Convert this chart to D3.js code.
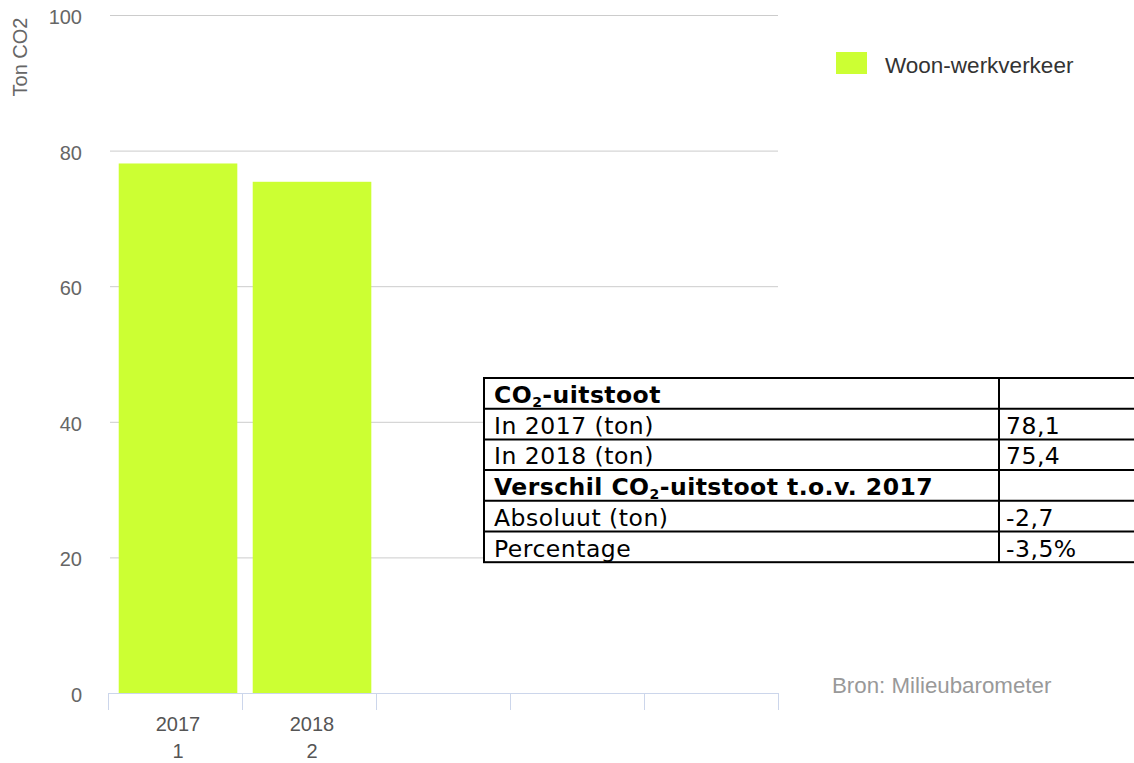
<!DOCTYPE html>
<html>
<head>
<meta charset="utf-8">
<script src="https://cdn.jsdelivr.net/npm/d3@7"></script>
<style>
  body { margin: 0; background: #fff; }
  svg { display: block; }
</style>
</head>
<body>
<svg id="chart" width="1134" height="763"></svg>
<script>
var categories = ["2017", "2018", "", "", ""];
var subLabels = ["1", "2", "", "", ""];
var values = [78.1, 75.4];
var seriesName = "Woon-werkverkeer";
var yTicks = [0, 20, 40, 60, 80, 100];

// label parts: [text, isSubscript]
var tableRows = [
  { label: [["CO", false], ["2", true], ["-uitstoot", false]], value: "", bold: true },
  { label: [["In 2017 (ton)", false]], value: "78,1", bold: false },
  { label: [["In 2018 (ton)", false]], value: "75,4", bold: false },
  { label: [["Verschil CO", false], ["2", true], ["-uitstoot t.o.v. 2017", false]], value: "", bold: true },
  { label: [["Absoluut (ton)", false]], value: "-2,7", bold: false },
  { label: [["Percentage", false]], value: "-3,5%", bold: false }
];

var barColor = "#ccff33";
var font = "'Liberation Sans', Arial, sans-serif";
var tableFont = "'DejaVu Sans', Verdana, sans-serif";

var svg = d3.select("svg#chart");

var plotLeft = 108, plotRight = 778, plotTop = 15, plotBottom = 693;

var x = d3.scaleBand()
    .domain(d3.range(categories.length))
    .range([plotLeft, plotRight]);

var y = d3.scaleLinear()
    .domain([0, 100])
    .range([plotBottom, plotTop]);

// gridlines
svg.append("g")
   .selectAll("line")
   .data(yTicks.filter(function(d) { return d > 0; }))
   .enter().append("line")
   .attr("x1", plotLeft + 2)
   .attr("x2", plotRight)
   .attr("y1", function(d) { return y(d) + 0.5; })
   .attr("y2", function(d) { return y(d) + 0.5; })
   .attr("stroke", "#cccccc")
   .attr("stroke-width", 1);

// y labels
svg.append("g")
   .selectAll("text")
   .data(yTicks)
   .enter().append("text")
   .attr("x", 82)
   .attr("y", function(d) { return y(d) + 9; })
   .attr("text-anchor", "end")
   .attr("font-family", font)
   .attr("font-size", 20)
   .attr("fill", "#666")
   .text(function(d) { return d; });

// y title
svg.append("text")
   .attr("transform", "translate(27,57) rotate(-90)")
   .attr("text-anchor", "middle")
   .attr("font-family", font)
   .attr("font-size", 20)
   .attr("fill", "#666")
   .text("Ton CO2");

// bars
var bw = x.bandwidth();
svg.append("g")
   .selectAll("rect")
   .data(values)
   .enter().append("rect")
   .attr("x", function(d, i) { return x(i) + bw * 0.08; })
   .attr("width", bw * 0.885)
   .attr("y", function(d) { return y(d); })
   .attr("height", function(d) { return y(0) - y(d); })
   .attr("fill", barColor);

// x axis line and ticks
svg.append("line")
   .attr("x1", plotLeft).attr("x2", plotRight)
   .attr("y1", plotBottom + 0.5).attr("y2", plotBottom + 0.5)
   .attr("stroke", "#ccd6eb");

var tickPos = d3.range(categories.length).map(function(i) { return x(i); }).concat([plotRight]);
svg.append("g")
   .selectAll("line")
   .data(tickPos)
   .enter().append("line")
   .attr("x1", function(d) { return d + 0.5; })
   .attr("x2", function(d) { return d + 0.5; })
   .attr("y1", plotBottom)
   .attr("y2", plotBottom + 17)
   .attr("stroke", "#ccd6eb");

var xl = svg.append("g")
   .selectAll("g")
   .data(categories)
   .enter().append("g")
   .attr("transform", function(d, i) { return "translate(" + (x(i) + bw / 2 + 3) + ",0)"; });
xl.append("text")
  .attr("y", 731)
  .attr("text-anchor", "middle")
  .attr("font-family", font)
  .attr("font-size", 20)
  .attr("fill", "#555")
  .text(function(d) { return d; });
xl.append("text")
  .attr("y", 758)
  .attr("text-anchor", "middle")
  .attr("font-family", font)
  .attr("font-size", 20)
  .attr("fill", "#555")
  .text(function(d, i) { return subLabels[i]; });

// legend
svg.append("rect")
   .attr("x", 836).attr("y", 52)
   .attr("width", 31).attr("height", 22)
   .attr("fill", barColor);
svg.append("text")
   .attr("x", 885).attr("y", 73)
   .attr("font-family", font)
   .attr("font-size", 22.5)
   .attr("fill", "#333")
   .text(seriesName);

// credits
svg.append("text")
   .attr("x", 832).attr("y", 693)
   .attr("font-family", font)
   .attr("font-size", 22.3)
   .attr("fill", "#999")
   .text("Bron: Milieubarometer");

// table overlay
var tLeft = 484, tTop = 378, rowH = 30.7, colX = 999, tRight = 1140;
var tbl = svg.append("g");
tbl.append("rect")
   .attr("x", tLeft).attr("y", tTop)
   .attr("width", tRight - tLeft).attr("height", rowH * tableRows.length)
   .attr("fill", "#fff")
   .attr("stroke", "#000")
   .attr("stroke-width", 2);

var rows = tbl.selectAll("g.row")
   .data(tableRows)
   .enter().append("g")
   .attr("class", "row")
   .attr("transform", function(d, i) { return "translate(0," + (tTop + i * rowH) + ")"; });

rows.filter(function(d, i) { return i > 0; })
   .append("line")
   .attr("x1", tLeft).attr("x2", tRight)
   .attr("y1", 0).attr("y2", 0)
   .attr("stroke", "#000").attr("stroke-width", 2);

var labels = rows.append("text")
   .attr("x", tLeft + 10).attr("y", 25)
   .attr("font-family", tableFont)
   .attr("font-size", 23.5)
   .attr("letter-spacing", function(d) { return d.bold ? "0.45px" : "0.5px"; })
   .attr("font-weight", function(d) { return d.bold ? "bold" : "normal"; })
   .attr("fill", "#000");

labels.selectAll("tspan")
   .data(function(d) { return d.label; })
   .enter().append("tspan")
   .attr("font-size", function(p) { return p[1] ? 14 : 23.5; })
   .attr("dy", function(p, i, nodes) {
     if (p[1]) return 4;
     return (i > 0 && nodes[i - 1].__data__[1]) ? -4 : 0;
   })
   .text(function(p) { return p[0]; });

rows.append("text")
   .attr("x", colX + 7).attr("y", 25)
   .attr("font-family", tableFont)
   .attr("font-size", 23.5)
   .attr("letter-spacing", "0.5px")
   .attr("fill", "#000")
   .text(function(d) { return d.value; });

tbl.append("line")
   .attr("x1", colX).attr("x2", colX)
   .attr("y1", tTop).attr("y2", tTop + rowH * tableRows.length)
   .attr("stroke", "#000").attr("stroke-width", 2);
</script>
</body>
</html>
